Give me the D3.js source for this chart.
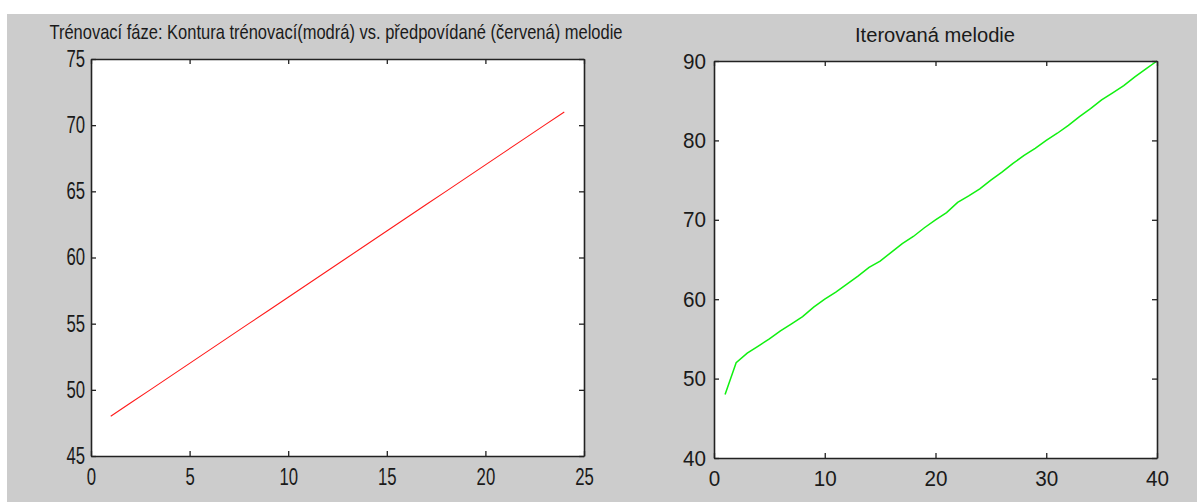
<!DOCTYPE html>
<html>
<head>
<meta charset="utf-8">
<script src="https://cdn.jsdelivr.net/npm/d3@7"></script>
<style>
  body { margin: 0; background: #fff; }
</style>
</head>
<body>
<div id="okvir"></div>
<script>
// 1. Podaci
const trenX = [1, 2, 3, 4, 5, 6, 7, 8, 9, 10, 11, 12, 13, 14, 15, 16, 17, 18, 19, 20, 21, 22, 23, 24]
const trenY = [48, 49, 50, 51, 52, 53, 54, 55, 56, 57, 58, 59, 60, 61, 62, 63, 64, 65, 66, 67, 68, 69, 70, 71]

const iterX = [1, 2, 3, 4, 5, 6, 7, 8, 9, 10, 11, 12, 13, 14, 15, 16, 17, 18, 19, 20,
               21, 22, 23, 24, 25, 26, 27, 28, 29, 30, 31, 32, 33, 34, 35, 36, 37, 38, 39, 40]
const iterY = [48, 52, 53.2, 54.1, 55, 56, 56.9, 57.8, 59, 60, 60.9, 61.9, 62.9, 64, 64.8, 65.9, 67, 67.9, 69, 70,
               70.9, 72.2, 73, 73.9, 75, 76, 77.1, 78.1, 79, 80, 80.9, 81.9, 83, 84, 85.1, 86, 86.9, 88, 89, 90]

const levoXTicks = [0, 5, 10, 15, 20, 25]
const levoYTicks = [45, 50, 55, 60, 65, 70, 75]
const desnoXTicks = [0, 10, 20, 30, 40]
const desnoYTicks = [40, 50, 60, 70, 80, 90]

const naslovLevo = "Trénovací fáze: Kontura trénovací(modrá) vs. předpovídané (červená) melodie"
const naslovDesno = "Iterovaná melodie"

// 2. Dimenzije
const sirina = 1197
const visina = 503
const font = "'Liberation Sans', Arial, sans-serif"

const okvir = d3.select("#okvir")
  .append("svg")
    .attr("width", sirina)
    .attr("height", visina)

okvir.append("rect")
    .attr("x", 7)
    .attr("y", 14)
    .attr("width", sirina - 7)
    .attr("height", visina - 15)
    .attr("fill", "#cccccc")

function crtajGraf(opt) {
  const xSkala = d3.scaleLinear().domain(opt.xDomena).range([opt.x0, opt.x1])
  const ySkala = d3.scaleLinear().domain(opt.yDomena).range([opt.y1, opt.y0])

  const g = okvir.append("g")

  g.append("rect")
      .attr("x", opt.x0)
      .attr("y", opt.y0)
      .attr("width", opt.x1 - opt.x0)
      .attr("height", opt.y1 - opt.y0)
      .attr("fill", "#fff")

  // linija podataka
  const linija = d3.line()
    .x((d, i) => xSkala(opt.xs[i]))
    .y(d => ySkala(d))

  g.append("path")
      .datum(opt.ys)
      .attr("d", linija)
      .attr("fill", "none")
      .attr("stroke", opt.boja)
      .attr("stroke-width", opt.debljina)

  // osi, tickovi prema unutra
  const tickLen = 5
  const osi = [
    d3.axisBottom(xSkala).tickValues(opt.xTicks).tickSizeInner(-tickLen).tickSizeOuter(0).tickPadding(opt.padX),
    d3.axisTop(xSkala).tickValues(opt.xTicks).tickSizeInner(-tickLen).tickSizeOuter(0).tickFormat(""),
    d3.axisLeft(ySkala).tickValues(opt.yTicks).tickSizeInner(-tickLen).tickSizeOuter(0).tickPadding(opt.padY),
    d3.axisRight(ySkala).tickValues(opt.yTicks).tickSizeInner(-tickLen).tickSizeOuter(0).tickFormat("")
  ]
  const pomaci = [
    `translate(0, ${opt.y1})`,
    `translate(0, ${opt.y0})`,
    `translate(${opt.x0}, 0)`,
    `translate(${opt.x1}, 0)`
  ]
  osi.forEach((os, i) => {
    const o = g.append("g")
        .attr("transform", pomaci[i])
      .call(os)
    o.select(".domain").attr("stroke", "#222").attr("stroke-width", 1.6)
    o.selectAll(".tick line").attr("stroke", "#222").attr("stroke-width", 1.3)
    o.selectAll(".tick text")
        .style("font-family", font)
        .style("font-size", opt.velicina + "px")
        .attr("fill", "#1a1a1a")
        .each(function(d) {
          if (i < 3 && opt.znamenka) {
            d3.select(this)
                .attr("textLength", String(d).length * opt.znamenka)
                .attr("lengthAdjust", "spacingAndGlyphs")
          }
        })
  })

  g.append("text")
      .attr("x", opt.naslovX)
      .attr("y", opt.naslovY)
      .attr("text-anchor", "middle")
      .attr("textLength", opt.naslovSirina)
      .attr("lengthAdjust", "spacingAndGlyphs")
      .style("font-family", font)
      .style("font-size", opt.naslovVelicina + "px")
      .attr("fill", "#1a1a1a")
      .text(opt.naslov)
}

crtajGraf({
  x0: 91, x1: 584, y0: 59, y1: 456,
  xDomena: [0, 25], yDomena: [45, 75],
  xs: trenX, ys: trenY, boja: "#ff1a1a", debljina: 1.1,
  xTicks: levoXTicks, yTicks: levoYTicks,
  padX: 13, padY: 6, velicina: 23, znamenka: 9.3,
  naslov: naslovLevo, naslovX: 336, naslovY: 39, naslovSirina: 573, naslovVelicina: 21
})

crtajGraf({
  x0: 714, x1: 1157, y0: 61, y1: 458,
  xDomena: [0, 40], yDomena: [40, 90],
  xs: iterX, ys: iterY, boja: "#11f011", debljina: 1.5,
  xTicks: desnoXTicks, yTicks: desnoYTicks,
  padX: 12, padY: 8, velicina: 22, znamenka: 11.5,
  naslov: naslovDesno, naslovX: 935, naslovY: 42, naslovSirina: 160, naslovVelicina: 20
})
</script>
</body>
</html>
